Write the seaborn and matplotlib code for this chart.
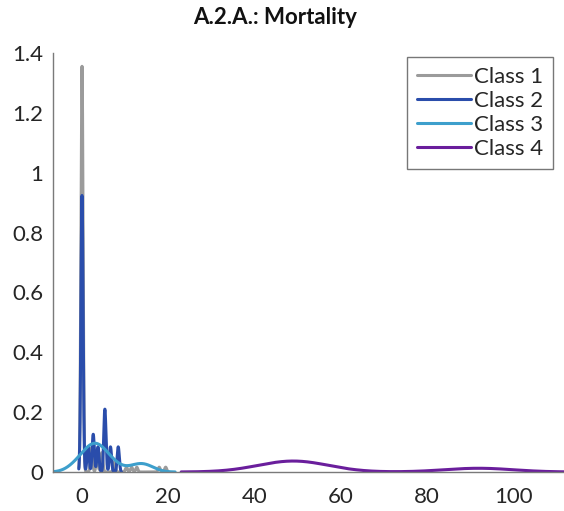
import numpy as np
import pandas as pd
import matplotlib
matplotlib.use("Agg")
import matplotlib.pyplot as plt
import seaborn as sns

# Mortality observations per class
class1 = [0.0] * 84 + [2.2] * 5 + [3.5] * 3 + [4.6] * 4 + [7.5] * 2 + [10.3, 11.5, 12.7, 17.9, 19.4]
class2 = [0.0] * 22 + [1.4] * 2 + [2.6] * 3 + [3.7] * 2 + [5.3] * 5 + [6.6] * 2 + [8.4] * 2
class3 = [-1.5, 0.5, 1.5, 2.5, 3.0, 3.5, 4.5, 5.5, 7.5, 12.5, 15.0]
class4 = [47.0, 49.0, 51.0, 92.0]

labels = ["Class 1", "Class 2", "Class 3", "Class 4"]
bandwidths = [0.24, 0.25, 2.2, 8.0]
colors = ["#9b9b9b", "#2a4dab", "#3d9fcc", "#6a1e9c"]

x_ticks = [0, 20, 40, 60, 80, 100]
y_ticks = [0, 0.2, 0.4, 0.6, 0.8, 1.0, 1.2, 1.4]
y_tick_labels = ["0", "0.2", "0.4", "0.6", "0.8", "1", "1.2", "1.4"]

sns.set_style("white")
plt.rcParams["font.family"] = ["Lato", "DejaVu Sans"]

W, H = 564, 511
fig = plt.figure(figsize=(W / 100, H / 100), dpi=100)
ax = fig.add_axes([53 / W, 39 / H, (W - 53) / W, (472 - 53) / H])

for data, lab, bw, col in zip([class1, class2, class3, class4], labels, bandwidths, colors):
    arr = np.asarray(data)
    sns.kdeplot(x=arr, ax=ax, bw_method=bw / arr.std(ddof=1), cut=3,
                gridsize=3000, color=col, linewidth=2.2, label=lab)

ax.set_xlim(-6.73, 111.8)
ax.set_ylim(0, 1.4)
ax.set_xticks(x_ticks)
ax.set_xticklabels([str(t) for t in x_ticks])
ax.set_yticks(y_ticks)
ax.set_yticklabels(y_tick_labels)
ax.set_xlabel("")
ax.set_ylabel("")

for side in ["top", "right"]:
    ax.spines[side].set_visible(False)
for side in ["left", "bottom"]:
    ax.spines[side].set_color("#7a7a7a")
    ax.spines[side].set_linewidth(1.0)

ax.tick_params(axis="both", direction="in", length=4, width=1.0, color="#6a6a6a",
               labelsize=16, labelcolor="#262626")
ax.tick_params(axis="x", pad=11)
ax.tick_params(axis="y", pad=7)

leg = ax.legend(loc="upper right", bbox_to_anchor=(553 / W, 1 - 57 / H),
                bbox_transform=fig.transFigure, borderaxespad=0, fontsize=16,
                frameon=True, fancybox=False, handlelength=2.4, handletextpad=0.15,
                borderpad=0.45, labelspacing=0.18)
leg.get_frame().set_edgecolor("#555555")
leg.get_frame().set_linewidth(1.0)
for t in leg.get_texts():
    t.set_color("#262626")

fig.text(275 / W, 1 - 18 / H, "A.2.A.: Mortality", ha="center", va="center",
         fontsize=16, fontweight="bold", color="#111111")

fig.savefig("out.png", dpi=100, facecolor="white")
